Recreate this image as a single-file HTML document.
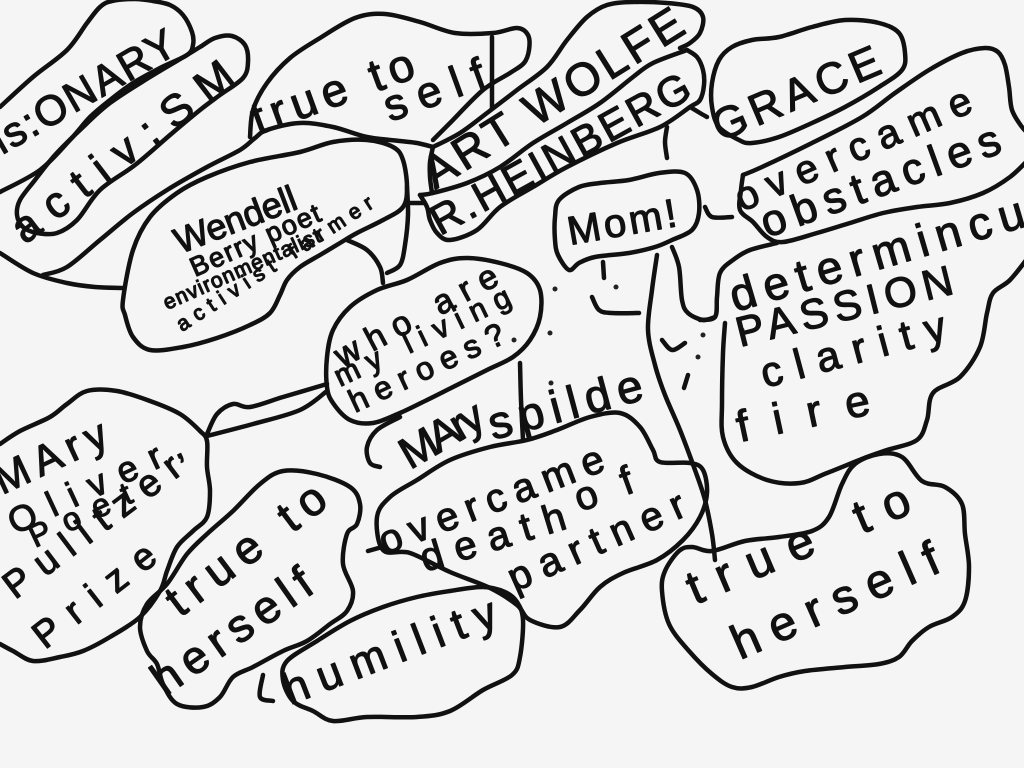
<!DOCTYPE html>
<html>
<head>
<meta charset="utf-8">
<style>
html,body{margin:0;padding:0;background:#f5f5f5;}
body{width:1024px;height:768px;overflow:hidden;position:relative;}
svg{position:absolute;left:0;top:0;}
svg path, svg polyline, svg polygon{fill:none;stroke:#111;stroke-width:4.5;stroke-linecap:round;stroke-linejoin:round;}
svg text{font-family:"Liberation Sans","DejaVu Sans",sans-serif;fill:#111;stroke:#111;stroke-width:1.2px;stroke-linejoin:round;}
svg circle{fill:#222;stroke:none;}
</style>
</head>
<body>
<svg width="1024" height="768" viewBox="0 0 1024 768" xmlns="http://www.w3.org/2000/svg">
<!-- visionary -->
<polyline points="0,107 33,77 67,50 87,23 100,7 112,1 135,-1 153,1 170,5 183,15 192,32 193,45 187,55 160,68 133,83 110,100 90,117 70,140 40,170 0,192"/>
<!-- activism -->
<polygon points="187,55 200,47 215,38 232,36 245,45 248,62 243,78 220,95 200,110 170,135 135,165 100,190 77,220 57,233 37,233 23,227 17,215 20,200 35,180 55,155 80,130 110,103 150,77"/>
<!-- outer lines -->
<polyline points="0,253 33,273 67,283 95,287 123,288"/>
<polyline points="43,275 67,267 100,240 133,213 167,190 207,167 240,150 255,138 267,130 300,123 333,127 367,137 400,141 417,143 433,147"/>
<!-- true to self -->
<polyline points="250,137 253,110 267,83 290,58 320,38 355,18 385,14 420,22 455,33 493,33 517,28 528,35 529,50 524,63 510,73 483,90 450,123 433,140"/>
<polyline points="492,37 492,70 492,108"/>
<!-- ART WOLFE -->
<polyline points="433,147 460,133 487,113 517,90 547,67 567,40 587,17 607,5 633,2 667,3 693,7 703,17 700,33 690,43 680,48"/>
<polyline points="433,147 430,162 430,177 432,193"/>
<polyline points="687,50 653,63 633,77 600,103 567,123 533,143 500,167 467,183 433,193 420,195"/>
<!-- R HEINBERG -->
<polyline points="687,50 697,57 703,70 704,85 700,100 690,107 660,127 617,143 567,167 533,187 500,207 477,230 450,240 437,233 430,220 427,207 420,195"/>
<polyline points="690,107 700,113 707,117"/>
<polyline points="667,127 665,142 667,158"/>
<!-- GRACE -->
<polygon points="712,83 719,60 732,47 752,40 779,37 812,27 845,20 879,23 899,33 905,53 902,70 879,87 845,107 812,123 779,137 752,143 739,140 719,127 712,107"/>
<!-- obstacles -->
<polyline points="743,175 762,167 812,143 862,117 895,93 929,70 962,53 985,48 998,52 1005,65 1009,87 1012,110 1022,127 1030,135"/>
<polyline points="1030,158 1010,177 983,193 950,203 917,207 883,213 850,223 817,233 783,242 767,237 753,222 740,210 741,190 743,175"/>
<polyline points="705,207 712,217 732,217"/>
<!-- determination -->
<polyline points="777,243 750,250 733,260 720,273 717,297 715,317 700,320"/>
<polyline points="725,323 723,353 722,403 723,437 737,463 767,480 800,483 827,473 867,457 887,450 917,440 927,420 933,393 960,377 980,347 987,313 993,293 1010,280 1030,255"/>
<!-- Mom -->
<polygon points="559,200 579,187 600,183 629,180 659,173 685,173 697,190 699,213 692,230 672,240 655,247 629,253 595,257 579,263 569,270 558,255 555,240 555,217"/>
<polyline points="657,255 652,290 648,330 655,365 665,395 680,430 695,470 705,500 712,534 715,560"/>
<polyline points="672,247 679,267 682,300 688,313 703,320 715,317"/>
<polyline points="592,297 599,310 612,313 639,313"/>
<polyline points="603,262 604,278"/>
<polyline points="662,340 672,350 685,343"/>
<polyline points="688,375 684,388"/>
<circle cx="555" cy="289" r="2.5"/><circle cx="616" cy="287" r="2.5"/><circle cx="703" cy="335" r="2.5"/><circle cx="698" cy="357" r="2.5"/><circle cx="550" cy="333" r="2.5"/><circle cx="514" cy="340" r="2.5"/><circle cx="551" cy="383" r="2.5"/><circle cx="742" cy="330" r="2.5"/>
<!-- Wendell -->
<polygon points="123,300 133,250 150,217 177,193 207,177 250,162 300,152 333,142 367,140 393,147 403,160 407,187 403,207 383,220 357,233 340,243 320,255 300,267 287,280 280,295 270,313 250,325 217,338 183,347 150,350 133,337 125,315"/>
<polyline points="347,240 367,250 380,267 383,283"/>
<polyline points="407,187 408,215 405,245 400,265 387,273"/>
<polyline points="410,203 423,203"/>
<!-- who are -->
<polygon points="327,387 327,357 333,330 350,307 377,290 407,280 440,263 467,258 500,263 527,273 540,290 540,317 530,340 513,357 487,370 453,387 427,400 400,413 373,423 350,420 333,403"/>
<polyline points="520,363 521,400 523,440"/>
<polyline points="400,417 377,430 367,447 370,463 380,467"/>
<!-- Mary Oliver -->
<polyline points="0,444 20,431 50,417 67,404 87,391 117,391 150,401 180,414 200,431 207,441 207,467 210,491 207,517 193,531 177,547 167,571 160,591 140,617 110,637 83,651 60,657 33,661 13,651 0,644"/>
<polyline points="207,434 217,414 233,404 250,407 283,397 327,384"/>
<polyline points="207,436 253,424 300,410 327,391"/>
<!-- left true to herself -->
<polygon points="140,627 147,604 167,584 187,554 207,534 233,511 260,484 283,471 317,474 350,487 360,504 357,524 347,534 343,564 353,591 347,611 330,624 307,641 283,651 253,667 233,677 220,697 203,707 177,704 163,684 157,664 147,651"/>
<polyline points="368,551 382,547"/>
<!-- partner -->
<polygon points="383,550 377,517 390,497 417,480 450,460 490,447 527,440 557,430 590,417 620,413 640,427 653,450 660,462 690,463 703,470 707,493 700,517 683,540 657,560 623,573 600,587 580,610 560,627 530,620 517,605 490,588 450,572 410,553"/>
<!-- humility -->
<polygon points="287,661 317,641 350,621 383,607 417,597 450,591 483,587 505,592 517,602 523,620 520,657 512,675 483,690 450,711 417,717 367,717 333,721 313,711 293,701 283,680"/>
<polyline points="263,675 260,697 273,701"/>
<!-- right true to herself -->
<polygon points="712,551 745,541 779,537 812,531 829,517 842,484 855,464 879,454 902,457 922,481 945,487 962,504 965,534 969,567 965,601 952,617 929,627 912,641 899,657 879,664 845,667 805,671 779,677 752,687 732,687 712,674 689,651 669,624 662,591 665,571 679,551 692,547"/>

<!-- TEXT -->
<text transform="translate(2,155) rotate(-30)" font-size="42" textLength="205" lengthAdjust="spacing">is:ONARY</text>
<text transform="translate(25,245) rotate(-37.5)" font-size="44" textLength="268" lengthAdjust="spacing">activ:SM</text>
<text transform="translate(258,135) rotate(-20)" font-size="46" textLength="170" lengthAdjust="spacing">true to</text>
<text transform="translate(390,122) rotate(-20)" font-size="44" textLength="105" lengthAdjust="spacing">self</text>
<text transform="translate(435,190) rotate(-32)" font-size="46" textLength="298" lengthAdjust="spacing">ART WOLFE</text>
<text transform="translate(440,236) rotate(-28.8)" font-size="42" textLength="290" lengthAdjust="spacing">R.HEINBERG</text>
<text transform="translate(720,142) rotate(-23)" font-size="44" textLength="178" lengthAdjust="spacing">GRACE</text>
<text transform="translate(742,212) rotate(-23.5)" font-size="40" textLength="254" lengthAdjust="spacing">overcame</text>
<text transform="translate(767,238) rotate(-20)" font-size="44" textLength="252" lengthAdjust="spacing">obstacles</text>
<text transform="translate(570,245) rotate(-10)" font-size="40" textLength="110" lengthAdjust="spacing">Mom!</text>
<text transform="translate(180,254) rotate(-21)" font-size="36" textLength="128" lengthAdjust="spacing">Wendell</text>
<text transform="translate(195,277) rotate(-24)" font-size="27" textLength="140" lengthAdjust="spacing">Berry poet</text>
<text transform="translate(167,310) rotate(-24)" font-size="21" textLength="170" lengthAdjust="spacing">environmentalist</text>
<text transform="translate(182,332) rotate(-33)" font-size="21" textLength="230" lengthAdjust="spacing">activist farmer</text>
<text transform="translate(342,368) rotate(-28)" font-size="34" textLength="180" lengthAdjust="spacing">who are</text>
<text transform="translate(340,387) rotate(-25.6)" font-size="30" textLength="192" lengthAdjust="spacing">my living</text>
<text transform="translate(355,413) rotate(-25)" font-size="32" textLength="168" lengthAdjust="spacing">heroes?</text>
<text transform="translate(410,470) rotate(-30)" font-size="44" textLength="90" lengthAdjust="spacing">MAry</text>
<text transform="translate(493,440) rotate(-15)" font-size="46" textLength="158" lengthAdjust="spacing">spilde</text>
<text transform="translate(735,312) rotate(-16.4)" font-size="46" textLength="305" lengthAdjust="spacing">determincu</text>
<text transform="translate(740,347) rotate(-14)" font-size="42" textLength="222" lengthAdjust="spacing">PASSION</text>
<text transform="translate(765,388) rotate(-15)" font-size="42" textLength="190" lengthAdjust="spacing">clarity</text>
<text transform="translate(740,442) rotate(-12)" font-size="44" textLength="135" lengthAdjust="spacing">fire</text>
<text transform="translate(2,495) rotate(-25)" font-size="42" textLength="120" lengthAdjust="spacing">MAry</text>
<text transform="translate(15,535) rotate(-25)" font-size="36" textLength="188" lengthAdjust="spacing">Oliver,</text>
<text transform="translate(35,548) rotate(-25)" font-size="32" textLength="110" lengthAdjust="spacing">Poet</text>
<text transform="translate(15,600) rotate(-37)" font-size="38" textLength="212" lengthAdjust="spacing">Pulitzer</text>
<text transform="translate(45,650) rotate(-38)" font-size="38" textLength="145" lengthAdjust="spacing">Prize</text>
<text transform="translate(180,618) rotate(-37)" font-size="46" textLength="188" lengthAdjust="spacing">true to</text>
<text transform="translate(165,697) rotate(-35)" font-size="46" textLength="185" lengthAdjust="spacing">herself</text>
<text transform="translate(385,555) rotate(-21)" font-size="40" textLength="238" lengthAdjust="spacing">overcame</text>
<text transform="translate(425,572) rotate(-17)" font-size="40" textLength="150" lengthAdjust="spacing">death</text>
<text transform="translate(580,512) rotate(-20)" font-size="40" textLength="60" lengthAdjust="spacing">of</text>
<text transform="translate(515,592) rotate(-24)" font-size="40" textLength="190" lengthAdjust="spacing">partner</text>
<text transform="translate(290,705) rotate(-21)" font-size="44" textLength="225" lengthAdjust="spacing">humility</text>
<text transform="translate(695,605) rotate(-23)" font-size="48" textLength="238" lengthAdjust="spacing">true to</text>
<text transform="translate(740,660) rotate(-23.7)" font-size="48" textLength="222" lengthAdjust="spacing">herself</text>
</svg>
<script>
(function(){
var els=document.querySelectorAll('svg polyline, svg polygon');
for(var k=0;k<els.length;k++){
 var el=els[k];var closed=el.tagName.toLowerCase()==='polygon';
 var pts=el.getAttribute('points').trim().split(/\s+/).map(function(p){return p.split(',').map(Number);});
 var n=pts.length;if(n<3)continue;
 var get=function(i){return closed?pts[(i+n)%n]:pts[Math.max(0,Math.min(n-1,i))];};
 var d='M'+pts[0][0]+','+pts[0][1];var segs=closed?n:n-1;
 for(var i=0;i<segs;i++){var p0=get(i-1),p1=get(i),p2=get(i+1),p3=get(i+2);
  var c1x=p1[0]+(p2[0]-p0[0])/6,c1y=p1[1]+(p2[1]-p0[1])/6,c2x=p2[0]-(p3[0]-p1[0])/6,c2y=p2[1]-(p3[1]-p1[1])/6;
  d+='C'+c1x.toFixed(1)+','+c1y.toFixed(1)+' '+c2x.toFixed(1)+','+c2y.toFixed(1)+' '+p2[0]+','+p2[1];}
 if(closed)d+='Z';
 var path=document.createElementNS('http://www.w3.org/2000/svg','path');path.setAttribute('d',d);
 el.parentNode.replaceChild(path,el);}
})();
</script>
</body>
</html>
